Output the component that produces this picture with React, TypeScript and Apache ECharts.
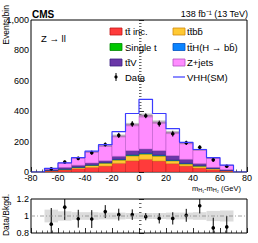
import React, { useEffect, useRef } from "react";
import * as echarts from "echarts";

// Bin edges (GeV) and stacked background yields (Events/bin)
const binEdges = [-70, -60, -50, -40, -30, -20, -10, 0, 10, 20, 30, 40, 50, 60, 70];
const ttInc = [7, 13, 22, 30, 39, 57, 74, 83, 72, 55, 39, 26, 15, 7];
const ttbb = [2, 5, 8, 14, 20, 22, 33, 35, 33, 19, 14, 13, 7, 2];
const singleT = [1, 1, 2, 2, 2, 3, 4, 4, 4, 3, 3, 2, 1, 1];
const ttH = [1, 1, 1, 1, 1, 2, 3, 3, 3, 2, 2, 1, 1, 0];
const ttV = [6, 10, 11, 12, 12, 19, 26, 26, 28, 28, 25, 13, 6, 5];
const zJets = [6, 30, 49, 73, 98, 134, 172, 221, 188, 153, 107, 91, 62, 29];
const vhhSM = [24, 60, 94, 137, 180, 265, 385, 478, 385, 285, 195, 148, 95, 45];
const dataVals = [21, 66, 90, 127, 181, 241, 316, 370, 318, 252, 192, 163, 80, 38];
const dataErr = [4, 9, 10, 14, 13, 17, 19, 16, 20, 19, 14, 13, 11, 6];
// Ratio panel
const ratioVals = [0.904, 1.104, 0.968, 0.964, 1.052, 1.016, 1.016, 0.992, 0.972, 0.972, 1.008, 1.12, 0.86, 0.872];
const ratioErr = [0.19, 0.15, 0.105, 0.105, 0.076, 0.07, 0.062, 0.042, 0.06, 0.072, 0.076, 0.09, 0.12, 0.128];
const bandErr = [0.075, 0.055, 0.045, 0.045, 0.04, 0.04, 0.035, 0.035, 0.035, 0.04, 0.04, 0.045, 0.06, 0.065];
const xTicks = [-80, 80, 20];
const yTicks = [0, 1000, 200];
const ratioTicks = [0.8, 1.2, 0.2];

const FONT = "Liberation Sans, Arial, sans-serif";

const components = [
  { name: "tt̄ inc.", vals: ttInc, color: "#ff3b3b", edge: "#c01818" },
  { name: "tt̄bb̄", vals: ttbb, color: "#ffc933", edge: "#d08a10" },
  { name: "Single t", vals: singleT, color: "#00c800", edge: "#008800" },
  { name: "tt̄H(H → bb̄)", vals: ttH, color: "#0a84ff", edge: "#0050c0" },
  { name: "tt̄V", vals: ttV, color: "#6a37a8", edge: "#3a2080" },
  { name: "Z+jets", vals: zJets, color: "#ff8cff", edge: "#b050c0" },
];

export default function App() {
  const ref = useRef<HTMLDivElement>(null);
  useEffect(() => {
    if (!ref.current) return;
    const chart = echarts.init(ref.current, null, { renderer: "svg" });

    const cum = binEdges.slice(0, -1).map(() => 0);
    const stackSeries: any[] = components.map((c) => {
      const data = c.vals.map((v, i) => {
        const b = cum[i];
        cum[i] = b + v;
        return [binEdges[i], binEdges[i + 1], b, b + v];
      });
      return {
        type: "custom",
        name: c.name,
        xAxisIndex: 0,
        yAxisIndex: 0,
        clip: true,
        encode: { x: [0, 1], y: [2, 3] },
        data,
        renderItem: (params: any, api: any) => {
          const p1 = api.coord([api.value(0), api.value(3)]);
          const p2 = api.coord([api.value(1), api.value(2)]);
          return {
            type: "rect",
            shape: { x: p1[0], y: p1[1], width: p2[0] - p1[0], height: p2[1] - p1[1] },
            style: { fill: c.color, stroke: c.edge, lineWidth: 0.5 },
          };
        },
      };
    });
    const totals = cum.slice();

    const rectRender = (fill: string) => (params: any, api: any) => {
      const p1 = api.coord([api.value(0), api.value(3)]);
      const p2 = api.coord([api.value(1), api.value(2)]);
      return {
        type: "rect",
        shape: { x: p1[0], y: p1[1], width: p2[0] - p1[0], height: p2[1] - p1[1] },
        style: { fill },
      };
    };

    const errRender = (params: any, api: any) => {
      const x = api.value(0), y = api.value(1), e = api.value(2);
      const c = api.coord([x, y]);
      const t = api.coord([x, y + e]);
      const b = api.coord([x, y - e]);
      return {
        type: "group",
        children: [
          { type: "line", shape: { x1: c[0], y1: t[1], x2: c[0], y2: b[1] }, style: { stroke: "#000", lineWidth: 1 } },
          { type: "circle", shape: { cx: c[0], cy: c[1], r: 1.8 }, style: { fill: "#000" } },
        ],
      };
    };

    const centers = binEdges.slice(0, -1).map((e, i) => (e + binEdges[i + 1]) / 2);
    const vhhLine: number[][] = [[xTicks[0], 0]];
    vhhSM.forEach((v, i) => vhhLine.push([binEdges[i], v]));
    vhhLine.push([binEdges[binEdges.length - 1], 0]);
    vhhLine.push([xTicks[1], 0]);

    const tick = { inside: true, length: 5, lineStyle: { color: "#000", width: 0.8 } };
    const minor = (n: number) => ({ show: true, splitNumber: n, length: 2.5, lineStyle: { color: "#000", width: 0.6 } });
    const lbl = { fontSize: 9, fontFamily: FONT, color: "#000" };

    const legendRows = [31.5, 47, 62.5, 77];
    const col1 = 110, col2 = 173;
    const legendItems: any[] = [];
    const box = (x: number, y: number, c: any) => ({
      type: "rect",
      shape: { x, y: y - 3.5, width: 12, height: 7 },
      style: { fill: c.color, stroke: c.edge, lineWidth: 0.8 },
    });
    const txt = (x: number, y: number, text: string) => ({
      type: "text",
      x,
      y,
      style: { text, fontSize: 9.5, fontFamily: FONT, fill: "#000", align: "left", verticalAlign: "middle" },
    });
    const leftCol = [components[0], components[2], components[4]];
    const rightCol = [components[1], components[3], components[5]];
    leftCol.forEach((c, i) => {
      legendItems.push(box(col1, legendRows[i], c));
      legendItems.push(txt(col1 + 15, legendRows[i], c.name));
    });
    rightCol.forEach((c, i) => {
      legendItems.push(box(col2, legendRows[i], c));
      legendItems.push(txt(col2 + 14, legendRows[i], c.name));
    });
    legendItems.push({ type: "line", shape: { x1: col1 + 6, y1: legendRows[3] - 4, x2: col1 + 6, y2: legendRows[3] + 4 }, style: { stroke: "#000", lineWidth: 1 } });
    legendItems.push({ type: "circle", shape: { cx: col1 + 6, cy: legendRows[3], r: 1.6 }, style: { fill: "#000" } });
    legendItems.push(txt(col1 + 15, legendRows[3], "Data"));
    legendItems.push({ type: "line", shape: { x1: col2, y1: legendRows[3], x2: col2 + 12, y2: legendRows[3] }, style: { stroke: "#3b3bff", lineWidth: 1.2 } });
    legendItems.push(txt(col2 + 14, legendRows[3], "VHH(SM)"));

    const option: any = {
      animation: false,
      grid: [
        { left: 31, right: 11, top: 20, height: 152, show: true, borderColor: "#000", borderWidth: 1, backgroundColor: "transparent" },
        { left: 31, right: 11, top: 199, height: 34, show: true, borderColor: "#000", borderWidth: 1, backgroundColor: "transparent" },
      ],
      xAxis: [
        {
          type: "value", gridIndex: 0, min: xTicks[0], max: xTicks[1], interval: xTicks[2],
          axisLine: { show: false }, axisTick: tick, minorTick: minor(5), splitLine: { show: false },
          axisLabel: { ...lbl, margin: 1.5 },
        },
        {
          type: "value", gridIndex: 1, min: xTicks[0], max: xTicks[1], interval: xTicks[2],
          axisLine: { show: false }, axisTick: tick, minorTick: minor(5), splitLine: { show: false },
          axisLabel: { show: false },
        },
      ],
      yAxis: [
        {
          type: "value", gridIndex: 0, min: yTicks[0], max: yTicks[1], interval: yTicks[2],
          axisLine: { show: false }, axisTick: tick, minorTick: minor(10), splitLine: { show: false },
          axisLabel: { ...lbl, margin: 2 },
        },
        {
          type: "value", gridIndex: 1, min: ratioTicks[0], max: ratioTicks[1], interval: ratioTicks[2],
          axisLine: { show: false }, axisTick: tick, minorTick: minor(4), splitLine: { show: false },
          axisLabel: { ...lbl, margin: 2, formatter: (v: number) => (Math.abs(v - 1) < 1e-6 ? "1" : v.toFixed(1)) },
        },
      ],
      series: [
        ...stackSeries,
        {
          type: "custom", xAxisIndex: 0, yAxisIndex: 0, clip: true, encode: { x: [0, 1], y: [2, 3] },
          data: totals.map((t, i) => [binEdges[i], binEdges[i + 1], t * (1 - bandErr[i]), t * (1 + bandErr[i])]),
          renderItem: rectRender("rgba(110,110,110,0.4)"),
        },
        {
          type: "line", xAxisIndex: 0, yAxisIndex: 0, step: "end", symbol: "none",
          data: vhhLine, lineStyle: { color: "#3b3bff", width: 1.2 },
        },
        {
          type: "custom", xAxisIndex: 0, yAxisIndex: 0, clip: true, encode: { x: 0, y: 1 },
          data: centers.map((c, i) => [c, dataVals[i], dataErr[i]]),
          renderItem: errRender,
        },
        {
          type: "custom", xAxisIndex: 1, yAxisIndex: 1, clip: true, encode: { x: [0, 1], y: [2, 3] },
          data: bandErr.map((u, i) => [binEdges[i], binEdges[i + 1], 1 - u, 1 + u]),
          renderItem: rectRender("#dcdcdc"),
        },
        {
          type: "line", xAxisIndex: 1, yAxisIndex: 1, symbol: "none",
          data: [[xTicks[0], 1], [xTicks[1], 1]],
          lineStyle: { color: "#8a8a8a", width: 0.8, type: [4, 2, 1, 2] },
        },
        {
          type: "custom", xAxisIndex: 1, yAxisIndex: 1, clip: true, encode: { x: 0, y: 1 },
          data: centers.map((c, i) => [c, ratioVals[i], ratioErr[i]]),
          renderItem: errRender,
        },
      ],
      graphic: [
        { type: "text", x: 32, y: 14, style: { text: "CMS", fontSize: 10, fontWeight: "bold", fontFamily: FONT, fill: "#000", align: "left", verticalAlign: "middle" } },
        { type: "text", x: 248, y: 14, style: { text: "138 fb⁻¹ (13 TeV)", fontSize: 9, fontFamily: FONT, fill: "#000", align: "right", verticalAlign: "middle" } },
        { type: "text", x: 41, y: 38, style: { text: "Z → ll", fontSize: 9.5, fontFamily: FONT, fill: "#000", align: "left", verticalAlign: "middle" } },
        { type: "text", x: 6, y: 5, rotation: Math.PI / 2, style: { text: "Events/bin", fontSize: 8.5, fontFamily: FONT, fill: "#000", align: "right", verticalAlign: "middle" } },
        { type: "text", x: 6, y: 215, rotation: Math.PI / 2, style: { text: "Data/Bkgd.", fontSize: 8.5, fontFamily: FONT, fill: "#000", align: "center", verticalAlign: "middle" } },
        {
          type: "text", x: 241, y: 188,
          style: {
            text: "m{s|H₁}-m{s|H₂} (GeV)", fontSize: 7.5, fontFamily: FONT, fill: "#000", align: "right", verticalAlign: "middle",
            rich: { s: { fontSize: 5.5, fontFamily: FONT, padding: [3, 0, 0, 0] } },
          },
        },
        ...legendItems,
      ],
    };
    chart.setOption(option);
    return () => chart.dispose();
  }, []);
  return <div ref={ref} style={{ position: "absolute", left: 0, top: 0, width: 258, height: 243 }} />;
}
